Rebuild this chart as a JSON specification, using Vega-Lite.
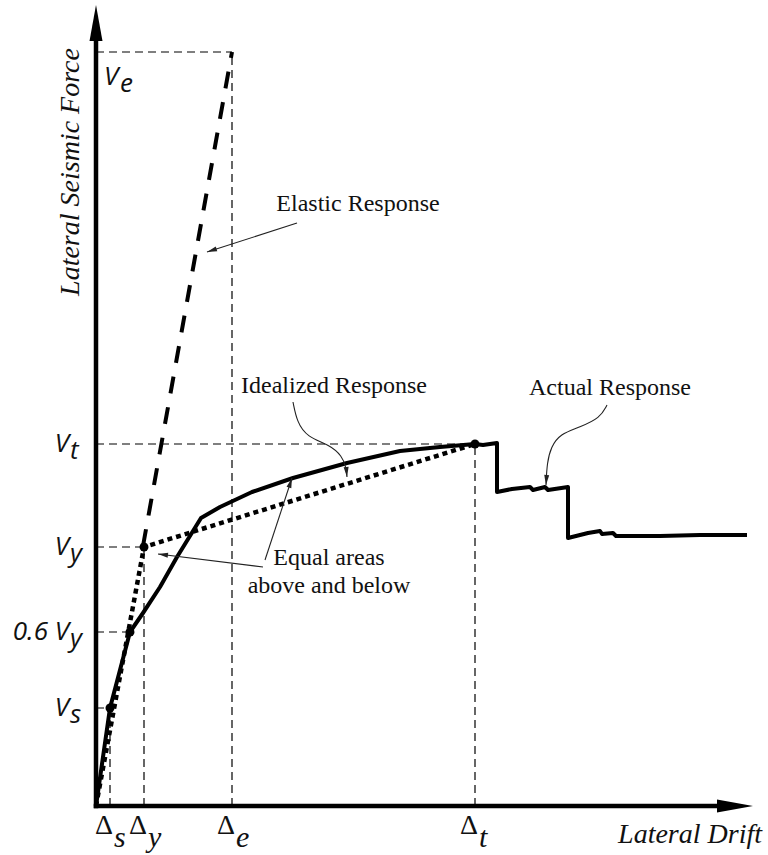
{
  "$schema": "https://vega.github.io/schema/vega-lite/v6.json",
  "width": 768,
  "height": 855,
  "autosize": {"type": "none"},
  "padding": 0,
  "background": "white",
  "config": {"view": {"stroke": null}},
  "datasets": {
    "guides": [
      {"x": 0, "x2": 136, "y": 754, "y2": 754},
      {"x": 136, "x2": 136, "y": 0, "y2": 754},
      {"x": 0, "x2": 379, "y": 362, "y2": 362},
      {"x": 379, "x2": 379, "y": 0, "y2": 362},
      {"x": 0, "x2": 48, "y": 259, "y2": 259},
      {"x": 48, "x2": 48, "y": 0, "y2": 259},
      {"x": 0, "x2": 34, "y": 174, "y2": 174},
      {"x": 0, "x2": 14, "y": 98, "y2": 98},
      {"x": 14, "x2": 14, "y": 0, "y2": 98}
    ],
    "elastic": [
      {"x": 47, "y": 260},
      {"x": 136, "y": 754}
    ],
    "ideal": [
      {"x": 0, "y": 0},
      {"x": 48, "y": 259},
      {"x": 379, "y": 362}
    ],
    "actual": [
      {"x": 0, "y": 0},
      {"x": 14, "y": 98},
      {"x": 34, "y": 174},
      {"x": 47, "y": 193},
      {"x": 64, "y": 219},
      {"x": 81, "y": 249},
      {"x": 105, "y": 288},
      {"x": 124, "y": 299},
      {"x": 156, "y": 314},
      {"x": 197, "y": 328},
      {"x": 251, "y": 343},
      {"x": 304, "y": 355},
      {"x": 344, "y": 359},
      {"x": 379, "y": 362},
      {"x": 387, "y": 361},
      {"x": 401, "y": 363},
      {"x": 401, "y": 314},
      {"x": 416, "y": 317},
      {"x": 434, "y": 319},
      {"x": 437, "y": 316},
      {"x": 449, "y": 319},
      {"x": 452, "y": 316},
      {"x": 472, "y": 319},
      {"x": 472, "y": 268},
      {"x": 492, "y": 273},
      {"x": 504, "y": 275},
      {"x": 506, "y": 272},
      {"x": 517, "y": 273},
      {"x": 520, "y": 270},
      {"x": 564, "y": 270},
      {"x": 604, "y": 271},
      {"x": 651, "y": 271}
    ],
    "dots": [
      {"x": 14, "y": 98},
      {"x": 34, "y": 174},
      {"x": 48, "y": 259},
      {"x": 379, "y": 362}
    ],
    "axes": [
      {"x": 0, "x2": 0, "y": 0, "y2": 770},
      {"x": 0, "x2": 625, "y": 0, "y2": 0}
    ],
    "axisHeads": [
      {"x": 0, "y": 801, "dir": 0},
      {"x": 657, "y": 0, "dir": 90}
    ],
    "pointers": [
      {"id": "elastic", "x": 201, "y": 583},
      {"id": "elastic", "x": 111, "y": 554},
      {"id": "ideal", "x": 197, "y": 404},
      {"id": "ideal", "x": 201, "y": 384},
      {"id": "ideal", "x": 211, "y": 369},
      {"id": "ideal", "x": 234, "y": 361},
      {"id": "ideal", "x": 246, "y": 350},
      {"id": "ideal", "x": 250, "y": 339},
      {"id": "ideal", "x": 251, "y": 329},
      {"id": "actual", "x": 511, "y": 401},
      {"id": "actual", "x": 504, "y": 388},
      {"id": "actual", "x": 484, "y": 379},
      {"id": "actual", "x": 464, "y": 372},
      {"id": "actual", "x": 455, "y": 359},
      {"id": "actual", "x": 451, "y": 343},
      {"id": "actual", "x": 450, "y": 321},
      {"id": "eq1", "x": 167, "y": 239},
      {"id": "eq1", "x": 62, "y": 252},
      {"id": "eq2", "x": 169, "y": 246},
      {"id": "eq2", "x": 196, "y": 328}
    ],
    "pointerHeads": [
      {"x": 111, "y": 554, "dir": 252},
      {"x": 251, "y": 329, "dir": 175},
      {"x": 450, "y": 321, "dir": 184},
      {"x": 62, "y": 252, "dir": 277},
      {"x": 196, "y": 328, "dir": 18}
    ],
    "notes": [
      {"x": 262, "y": 595, "text": "Elastic Response"},
      {"x": 238, "y": 413, "text": "Idealized Response"},
      {"x": 514, "y": 411, "text": "Actual Response"},
      {"x": 233, "y": 241, "text": "Equal areas"},
      {"x": 233, "y": 213, "text": "above and below"}
    ],
    "yTitle": [{"x": -17, "y": 634, "text": "Lateral Seismic Force"}],
    "xTitle": [{"x": 666, "y": -37, "text": "Lateral Drift"}],
    "forceLabels": [
      {"x": 0, "y": 362, "main": "V", "sub": "t"},
      {"x": 0, "y": 259, "main": "V", "sub": "y"},
      {"x": 0, "y": 174, "main": "0.6 V", "sub": "y"},
      {"x": 0, "y": 98, "main": "V", "sub": "s"},
      {"x": 0, "y": 754, "main": "V", "sub": "e"}
    ],
    "driftLabels": [
      {"x": 14, "y": 0, "main": "Δ", "sub": "s"},
      {"x": 48, "y": 0, "main": "Δ", "sub": "y"},
      {"x": 136, "y": 0, "main": "Δ", "sub": "e"},
      {"x": 379, "y": 0, "main": "Δ", "sub": "t"}
    ]
  },
  "encoding": {
    "x": {"field": "x", "type": "quantitative", "scale": {"domain": [-96, 672], "nice": false, "zero": false}, "axis": null},
    "y": {"field": "y", "type": "quantitative", "scale": {"domain": [-49, 806], "nice": false, "zero": false}, "axis": null}
  },
  "layer": [
    {
      "data": {"name": "guides"},
      "mark": {"type": "rule", "strokeDash": [8, 5], "strokeWidth": 1.2, "color": "black"},
      "encoding": {"x2": {"field": "x2"}, "y2": {"field": "y2"}}
    },
    {
      "data": {"name": "elastic"},
      "mark": {"type": "line", "strokeDash": [17, 14], "strokeWidth": 4, "color": "black"},
      "encoding": {"order": {"value": null}}
    },
    {
      "data": {"name": "ideal"},
      "mark": {"type": "line", "strokeDash": [5, 4], "strokeWidth": 4.5, "strokeCap": "butt", "color": "black"},
      "encoding": {"order": {"value": null}}
    },
    {
      "data": {"name": "actual"},
      "mark": {"type": "line", "strokeWidth": 4, "strokeJoin": "round", "color": "black"},
      "encoding": {"order": {"value": null}}
    },
    {
      "data": {"name": "dots"},
      "mark": {"type": "point", "shape": "circle", "filled": true, "size": 80, "color": "black", "opacity": 1}
    },
    {
      "data": {"name": "axes"},
      "mark": {"type": "rule", "strokeWidth": 4.5, "strokeCap": "square", "color": "black"},
      "encoding": {"x2": {"field": "x2"}, "y2": {"field": "y2"}}
    },
    {
      "data": {"name": "axisHeads"},
      "mark": {"type": "point", "shape": "M0,0L0.36,2L-0.36,2Z", "filled": true, "size": 1296, "color": "black", "opacity": 1},
      "encoding": {"angle": {"field": "dir", "type": "quantitative", "scale": null}}
    },
    {
      "data": {"name": "pointers"},
      "mark": {"type": "line", "interpolate": "basis", "strokeWidth": 1.1, "color": "#222222"},
      "encoding": {"detail": {"field": "id"}, "order": {"value": null}}
    },
    {
      "data": {"name": "pointerHeads"},
      "mark": {"type": "point", "shape": "M0,0L0.5,2L-0.5,2Z", "filled": true, "size": 100, "color": "#222222", "opacity": 1},
      "encoding": {"angle": {"field": "dir", "type": "quantitative", "scale": null}}
    },
    {
      "data": {"name": "notes"},
      "mark": {"type": "text", "font": "Liberation Serif, DejaVu Serif, serif", "fontSize": 24, "align": "center", "baseline": "alphabetic", "color": "#111111"},
      "encoding": {"text": {"field": "text"}}
    },
    {
      "data": {"name": "yTitle"},
      "mark": {"type": "text", "font": "Liberation Serif, DejaVu Serif, serif", "fontStyle": "italic", "fontSize": 28, "align": "center", "baseline": "alphabetic", "angle": 270, "color": "#111111"},
      "encoding": {"text": {"field": "text"}}
    },
    {
      "data": {"name": "xTitle"},
      "mark": {"type": "text", "font": "Liberation Serif, DejaVu Serif, serif", "fontStyle": "italic", "fontSize": 28, "align": "right", "baseline": "alphabetic", "color": "#111111"},
      "encoding": {"text": {"field": "text"}}
    },
    {
      "data": {"name": "forceLabels"},
      "transform": [{"filter": "datum.sub != 'e'"}],
      "mark": {"type": "text", "font": "Open Sans", "fontStyle": "italic", "fontSize": 26, "align": "right", "baseline": "alphabetic", "dx": -27, "dy": 8, "color": "#111111"},
      "encoding": {"text": {"field": "main"}}
    },
    {
      "data": {"name": "forceLabels"},
      "transform": [{"filter": "datum.sub != 'e'"}],
      "mark": {"type": "text", "font": "Open Sans", "fontStyle": "italic", "fontSize": 26, "align": "left", "baseline": "alphabetic", "dx": -26, "dy": 15, "color": "#111111"},
      "encoding": {"text": {"field": "sub"}}
    },
    {
      "data": {"name": "forceLabels"},
      "transform": [{"filter": "datum.sub == 'e'"}],
      "mark": {"type": "text", "font": "Open Sans", "fontStyle": "italic", "fontSize": 26, "align": "left", "baseline": "alphabetic", "dx": 8, "dy": 33, "color": "#111111"},
      "encoding": {"text": {"field": "main"}}
    },
    {
      "data": {"name": "forceLabels"},
      "transform": [{"filter": "datum.sub == 'e'"}],
      "mark": {"type": "text", "font": "Open Sans", "fontStyle": "italic", "fontSize": 26, "align": "left", "baseline": "alphabetic", "dx": 24, "dy": 40, "color": "#111111"},
      "encoding": {"text": {"field": "sub"}}
    },
    {
      "data": {"name": "driftLabels"},
      "mark": {"type": "text", "font": "Liberation Serif, DejaVu Serif, serif", "fontSize": 28, "align": "right", "baseline": "alphabetic", "dx": 3, "dy": 28, "color": "#111111"},
      "encoding": {"text": {"field": "main"}}
    },
    {
      "data": {"name": "driftLabels"},
      "mark": {"type": "text", "font": "Liberation Serif, DejaVu Serif, serif", "fontStyle": "italic", "fontSize": 30, "align": "left", "baseline": "alphabetic", "dx": 4, "dy": 41, "color": "#111111"},
      "encoding": {"text": {"field": "sub"}}
    }
  ]
}
